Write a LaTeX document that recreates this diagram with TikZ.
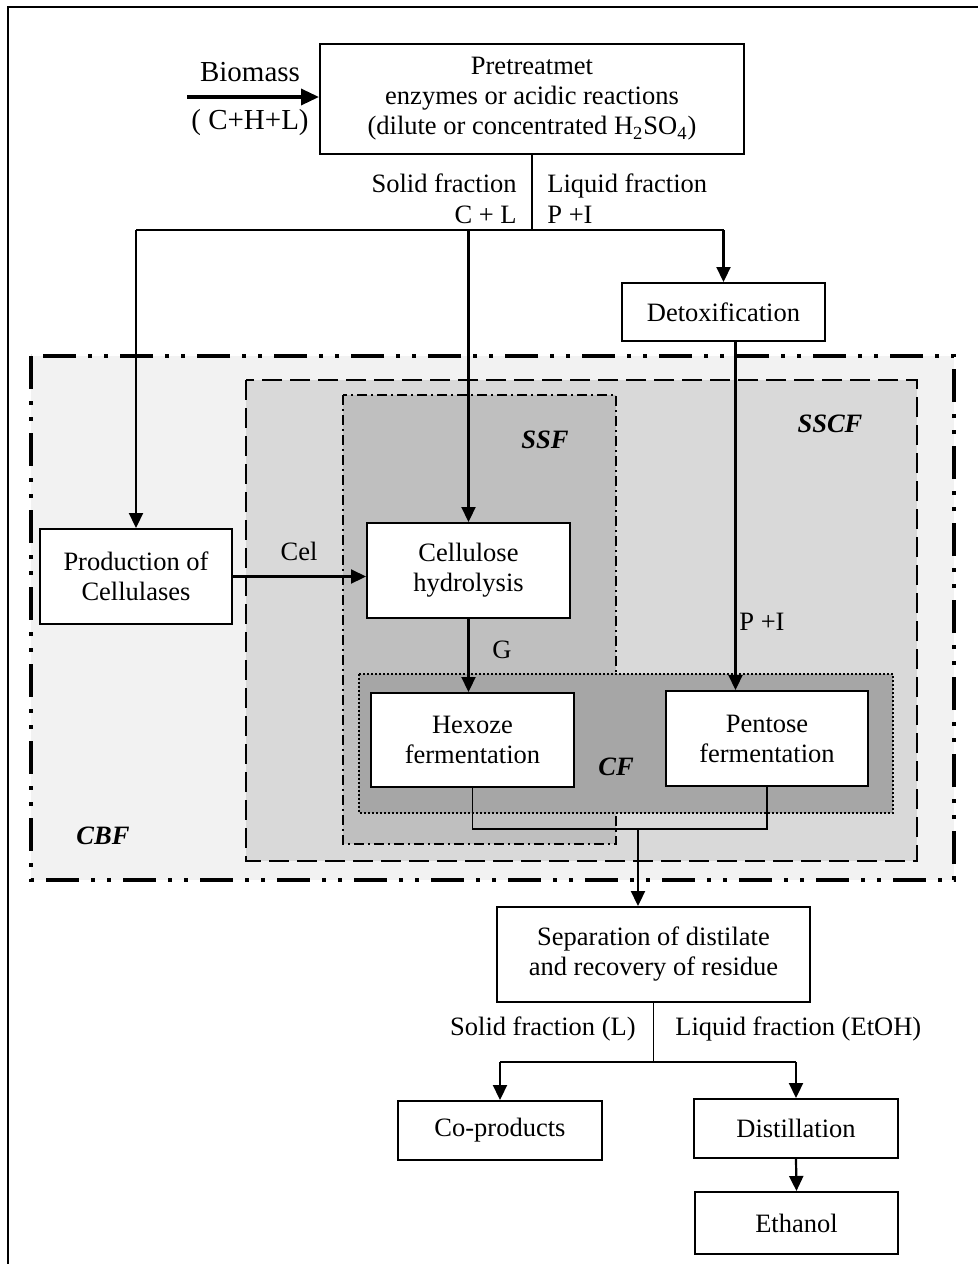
\documentclass[tikz,border=0pt]{standalone}
\usepackage{fontspec}
\setmainfont{Liberation Serif}
\usetikzlibrary{arrows.meta}

\definecolor{cbfgray}{HTML}{F2F2F2}
\definecolor{sscfgray}{HTML}{D9D9D9}
\definecolor{ssfgray}{HTML}{BFBFBF}
\definecolor{cfgray}{HTML}{A6A6A6}

\begin{document}
\begin{tikzpicture}[x=0.5pt,y=0.5pt,yscale=-1,
  font=\fontsize{13.25}{15}\selectfont,
  box/.style={draw, line width=1pt, fill=white, align=center, inner sep=0pt},
  flow/.style={line width=1.1pt, -{Triangle[length=7.5pt,width=7pt]}},
  feed/.style={line width=1.7pt, -{Triangle[length=9pt,width=8pt]}},
  tie/.style={line width=0.6pt},
  bus/.style={line width=1.1pt},
  zone/.style={inner sep=0pt, font=\fontsize{13.25}{15}\selectfont\bfseries\itshape},
  lbl/.style={inner sep=0pt},
  biglbl/.style={inner sep=0pt, font=\fontsize{14.5}{16}\selectfont}
]
\useasboundingbox (0,0) rectangle (978,1264);

%Shape: Frame
\draw [line width=1pt] (978,7) -- (8,7) -- (8,1264) ;

%Shape: Rectangle CBF
\draw [fill=cbfgray, line width=2pt, dash pattern={on 16.5pt off 6pt on 2pt off 6pt on 2pt off 6pt}] (31,356) rectangle (954,880) ;
%Shape: Rectangle SSCF
\draw [fill=sscfgray, line width=1.3pt, dash pattern={on 10pt off 4pt}] (246,380) rectangle (917,861) ;
%Shape: Rectangle SSF
\draw [fill=ssfgray, line width=0.9pt, dash pattern={on 5pt off 2pt on 1pt off 2pt}] (343,395) rectangle (616,844) ;
%Shape: Rectangle CF
\draw [fill=cfgray, line width=0.8pt, dash pattern={on 1pt off 1pt}] (359,674) rectangle (893,813) ;

% Text Node
\node [box, minimum width=212pt, minimum height=55pt] (pre) at (532,99) {Pretreatmet\\enzymes or acidic reactions\\(dilute or concentrated H\textsubscript{2}SO\textsubscript{4})};
\node [box, minimum width=101.5pt, minimum height=29pt] (detox) at (723.5,312) {Detoxification};
\node [box, minimum width=96pt, minimum height=47.5pt] (prod) at (136,576.5) {Production of\\Cellulases};
\node [box, minimum width=101.5pt, minimum height=47.5pt] (cell) at (468.5,570.5) {Cellulose\\hydrolysis};
\node [box, minimum width=101.5pt, minimum height=47pt] (hex) at (472.5,740) {Hexoze\\fermentation};
\node [box, minimum width=101pt, minimum height=47.5pt] (pent) at (767,738.5) {Pentose\\fermentation};
\node [box, minimum width=156.5pt, minimum height=47.5pt] (sep) at (653.5,954.5) {Separation of distilate\\and recovery of residue};
\node [box, minimum width=102pt, minimum height=29.5pt] (cop) at (500,1130.5) {Co-products};
\node [box, minimum width=102pt, minimum height=29.5pt] (dist) at (796,1128.5) {Distillation};
\node [box, minimum width=101.5pt, minimum height=31pt] (eth) at (796.5,1223) {Ethanol};

% Text Node
\node [biglbl] (biomass) at (250,72) {Biomass};
\node [biglbl] (chl) at (250,123) {( C+H+L)};
\node [lbl, anchor=base east] (solid) at (517,192) {Solid fraction};
\node [lbl, anchor=east] (cl) at (517,215) {C + L};
\node [lbl, anchor=base west] (liquid) at (547,192) {Liquid fraction};
\node [lbl, anchor=west] (pi) at (547,215) {P +I};
\node [lbl] (cel) at (299,551) {Cel};
\node [lbl] (g) at (502,650) {G};
\node [lbl] (pi2) at (762,622) {P +I};
\node [lbl, anchor=east] (solid2) at (636,1029) {Solid fraction (L)};
\node [lbl, anchor=west] (liquid2) at (675,1029) {Liquid fraction (EtOH)};
\node [zone] (ssf) at (545,440) {SSF};
\node [zone] (sscf) at (830,424) {SSCF};
\node [zone] (cf) at (616,767) {CF};
\node [zone] (cbf) at (103,836) {CBF};

%Straight Lines
\coordinate (bio) at (187,97);
\draw [feed] (bio) -- (bio -| pre.west) ;
\coordinate (split) at (533,230);
\draw [tie] (pre.south) -- (pre.south |- split) ;
\draw [bus] (prod.north |- split) -- (detox.north |- split) ;
\draw [flow] (prod.north |- split) -- (prod.north) ;
\draw [flow] (cell.north |- split) -- (cell.north) ;
\draw [flow] (detox.north |- split) -- (detox.north) ;
\draw [flow] (prod.east) -- (cell.west |- prod.east) ;
\draw [flow] (cell.south) -- (cell.south |- hex.north) ;
\draw [flow] ([xshift=6pt]detox.south) -- ([xshift=6pt]detox.south |- pent.north) ;
\coordinate (merge) at (638,829);
\draw [tie] (hex.south) -- (hex.south |- merge) -- (pent.south |- merge) -- (pent.south) ;
\draw [flow] (merge) -- (merge |- sep.north) ;
\coordinate (split2) at (656,1062);
\draw [tie] (sep.south) -- (sep.south |- split2) ;
\draw [bus] (cop.north |- split2) -- (dist.north |- split2) ;
\draw [flow] (cop.north |- split2) -- (cop.north) ;
\draw [flow] (dist.north |- split2) -- (dist.north) ;
\draw [flow] (dist.south) -- (eth.north) ;

\end{tikzpicture}
\end{document}
